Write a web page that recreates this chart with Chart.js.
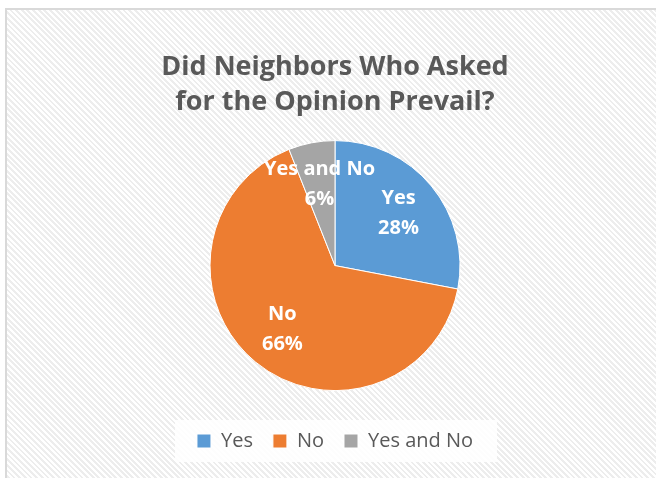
<!DOCTYPE html>
<html>
<head>
<meta charset="utf-8">
<script src="https://cdn.jsdelivr.net/npm/chart.js@4"></script>
<style>
  html, body { margin: 0; padding: 0; background: #fff; }
  #wrap { position: relative; width: 656px; height: 478px; overflow: hidden; }
  #frame {
    position: absolute; left: 5px; top: 8px; width: 660px; height: 480px;
    border: 2px solid #d9d9d9; box-sizing: border-box;
    background: repeating-linear-gradient(45deg, #ffffff 0px, #ffffff 2px, #ededed 2px, #ededed 4px);
  }
  canvas { position: absolute; left: 0; top: 0; }
</style>
</head>
<body>
<div id="wrap">
  <div id="frame"></div>
  <canvas id="chart" width="656" height="478"></canvas>
</div>
<script>
const categories = ["Yes", "No", "Yes and No"];
const percentages = [28, 66, 6];
const sliceColors = ["#5B9BD5", "#ED7D31", "#A5A5A5"];
const titleLines = ["Did Neighbors Who Asked", "for the Opinion Prevail?"];

// white panel behind the legend, like the Excel legend fill
const legendFill = {
  id: "legendFill",
  beforeDraw(chart) {
    const lg = chart.legend;
    if (!lg || !lg.legendHitBoxes.length) return;
    const boxes = lg.legendHitBoxes;
    const left = Math.min(...boxes.map(b => b.left)) - 22;
    const right = Math.max(...boxes.map(b => b.left + b.width)) + 24;
    const top = boxes[0].top - 11;
    const bottom = boxes[0].top + boxes[0].height + 11;
    const ctx = chart.ctx;
    ctx.save();
    ctx.fillStyle = "rgba(255,255,255,0.85)";
    ctx.fillRect(left, top, right - left, bottom - top);
    ctx.restore();
  }
};

// category name + percent drawn inside each slice
const sliceLabels = {
  id: "sliceLabels",
  afterDatasetsDraw(chart) {
    const ctx = chart.ctx;
    const meta = chart.getDatasetMeta(0);
    ctx.save();
    ctx.fillStyle = "#ffffff";
    ctx.font = "bold 20px 'Open Sans'";
    ctx.textAlign = "center";
    ctx.textBaseline = "middle";
    meta.data.forEach((arc, i) => {
      const mid = (arc.startAngle + arc.endAngle) / 2;
      const r = arc.outerRadius * 0.66;
      const x = arc.x + Math.cos(mid) * r;
      const y = arc.y + Math.sin(mid) * r;
      ctx.fillText(categories[i], x, y - 15);
      ctx.fillText(percentages[i] + "%", x, y + 15);
    });
    ctx.restore();
  }
};

new Chart(document.getElementById("chart"), {
  type: "pie",
  data: {
    labels: categories,
    datasets: [{
      data: percentages,
      backgroundColor: sliceColors,
      borderColor: "#ffffff",
      borderWidth: 1,
      radius: 125
    }]
  },
  options: {
    responsive: false,
    animation: false,
    layout: { padding: { left: 14, right: 0, top: 0, bottom: 17 } },
    plugins: {
      title: {
        display: true,
        text: titleLines,
        color: "#595959",
        font: { family: "'Open Sans'", size: 27, weight: "bold", lineHeight: 1.3 },
        padding: { top: 50, bottom: 0 }
      },
      legend: {
        position: "bottom",
        labels: {
          color: "#595959",
          font: { family: "'Open Sans'", size: 20 },
          boxWidth: 14,
          boxHeight: 14,
          padding: 20
        }
      },
      tooltip: { enabled: false }
    }
  },
  plugins: [legendFill, sliceLabels]
});
</script>
</body>
</html>
